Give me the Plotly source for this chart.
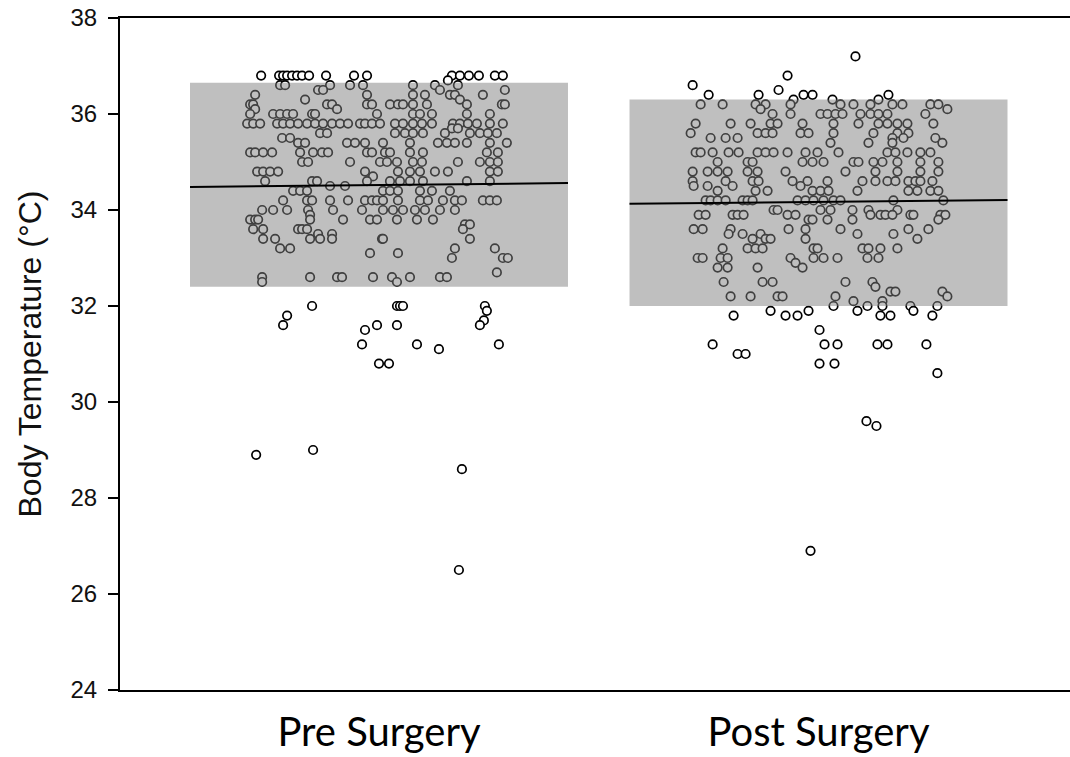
import plotly.graph_objects as go

# ---------------- data ----------------
groups = ["Pre Surgery", "Post Surgery"]

# rows of (temperature in degC, horizontal jitter values in 1/440 of the group spacing)
pre_rows = [
    (36.8, [-118, -100, -96, -92, -87, -82, -77, -70, -53, -25, -12, 73, 81, 90, 100, 116, 124]),
    (36.7, [69]),
    (36.6, [-99, -94, -49, -29, -16, 34, 56, 79]),
    (36.5, [-61, -56, 61, 126]),
    (36.4, [-124, -12, 34, 46, 71, 76, 104]),
    (36.3, [-74, 81]),
    (36.2, [-129, -126, -52, -47, -12, -7, 11, 19, 24, 34, 48, 88, 123, 126]),
    (36.1, [-124, -42]),
    (36.0, [-129, -106, -99, -92, -86, -67, -64, -2, 34, 41, 53, 88, 111]),
    (35.8, [-132, -126, -119, -102, -96, -89, -81, -72, -64, -56, -47, -39, -31, -19,
            -14, -7, 1, 16, 24, 34, 43, 53, 74, 81, 89, 98, 111, 124]),
    (35.7, [73, 79]),
    (35.6, [-59, -52, 16, 26, 34, 44, 66, 91, 101, 109, 118]),
    (35.5, [-97, -89]),
    (35.4, [-81, -74, -32, -24, -14, 4, 31, 59, 68, 76, 88, 111, 128]),
    (35.2, [-129, -124, -116, -107, -79, -66, -57, -51, -12, -7, 6, 11, 31, 44, 108, 119]),
    (35.0, [-77, -71, -29, 1, 8, 18, 34, 43, 79, 101, 111, 119]),
    (34.8, [-122, -116, -109, -101, -14, 19, 31, 41, 56, 69, 111, 119]),
    (34.7, [-6]),
    (34.6, [-114, -67, -62, -12, 11, 21, 31, 44, 88, 111]),
    (34.5, [-49, -34]),
    (34.4, [-86, -79, -72, 4, 11, 19, 41, 53, 71]),
    (34.2, [-96, -72, -67, -49, -31, -14, -7, -2, 4, 19, 41, 49, 64, 76, 83, 104, 111, 118]),
    (34.0, [-117, -106, -92, -71, -46, -17, 4, 14, 24, 36, 46, 61, 76]),
    (33.9, [-69]),
    (33.8, [-129, -124, -121, -69, -36, -9, -2, 18, 38, 54]),
    (33.7, [86, 91]),
    (33.6, [-126, -116, -81, -77, -72, 84]),
    (33.5, [-61, -47]),
    (33.4, [-116, -104, -69, -59, -47, 3, 4, 91]),
    (33.2, [-99, -89, 76, 116]),
    (33.1, [-9, 19]),
    (33.0, [73, 124, 129]),
    (32.7, [118]),
    (32.6, [-117, -69, -42, -37, -6, 13, 31, 61, 68]),
    (32.5, [-117, 18]),
    (32.0, [-67, 18, 21, 24, 106]),
    (31.9, [108]),
    (31.8, [-92]),
    (31.7, [105]),
    (31.6, [-96, -2, 18, 101]),
    (31.5, [-14]),
    (31.2, [-17, 38, 120]),
    (31.1, [60]),
    (30.8, [0, 10]),
    (29.0, [-66]),
    (28.9, [-123]),
    (28.6, [83]),
    (26.5, [80]),
]

post_rows = [
    (37.2, [37]),
    (36.8, [-31]),
    (36.6, [-126]),
    (36.5, [-40]),
    (36.4, [-110, -60, -15, -6, 70]),
    (36.3, [-25, 14, 60]),
    (36.2, [-118, -96, -63, -53, -28, 22, 35, 52, 74, 84, 112, 120]),
    (36.1, [-58, 129]),
    (36.0, [-46, -28, 2, 9, 17, 24, 42, 52, 60, 69, 107]),
    (35.8, [-123, -88, -68, -48, -41, -16, 15, 40, 60, 69, 79, 89, 115]),
    (35.6, [-128, -61, -53, -46, -18, -10, 15, 55, 79, 90]),
    (35.5, [-108, -93, -81, 74, 85, 117]),
    (35.4, [12, 50, 74, 124]),
    (35.2, [-123, -118, -106, -90, -80, -61, -53, -45, -31, -13, -1, 20, 69, 77, 89, 102, 112]),
    (35.0, [-101, -71, -66, -16, -6, 5, 35, 40, 55, 64, 79, 102, 120]),
    (34.8, [-126, -111, -101, -91, -71, -61, -33, 27, 57, 79, 102, 120]),
    (34.6, [-126, -93, -66, -60, -26, -11, 9, 44, 57, 69, 77, 90, 97, 102, 114]),
    (34.5, [-125, -111, -86, -18]),
    (34.4, [-101, -63, -51, -6, 2, 10, 39, 90, 99, 112, 120]),
    (34.2, [-113, -108, -101, -93, -76, -71, -66, -21, -13, -5, 5, 15, 22, 75, 125]),
    (34.0, [-45, -41, 2, 12, 34, 50, 79]),
    (33.9, [-120, -113, -86, -81, -75, -31, -23, 52, 62, 67, 74, 92, 95, 122, 127]),
    (33.8, [-10, -6, 9, 34, 120]),
    (33.6, [-125, -116, -88, -30, -13, 22, 90, 110]),
    (33.5, [-90, -76, -58, 39, 75]),
    (33.4, [-66, -53, -48, -13, 99]),
    (33.2, [-96, -71, -63, -56, -5, -1, 44, 50, 62, 79]),
    (33.0, [-121, -116, -98, -91, -28, -5, 5, 19, 49, 60]),
    (32.9, [-23]),
    (32.8, [-101, -91, -61, -16]),
    (32.5, [-95, -56, -46, 27, 54]),
    (32.4, [57]),
    (32.3, [72, 77, 124]),
    (32.2, [-88, -68, -41, -36, 17, 129]),
    (32.1, [35, 64]),
    (32.0, [15, 49, 64, 92, 119]),
    (31.9, [-48, -10, 39, 95]),
    (31.8, [-85, -33, -21, 62, 72, 114]),
    (31.5, [1]),
    (31.2, [-106, 6, 19, 59, 69, 108]),
    (31.0, [-81, -73]),
    (30.8, [1, 16]),
    (30.6, [119]),
    (29.6, [48]),
    (29.5, [58]),
    (26.9, [-8]),
]

# shaded band (low, high) and the trend line (left end, right end) per group
band_low = [32.4, 32.0]
band_high = [36.65, 36.3]
line_left = [34.48, 34.13]
line_right = [34.56, 34.21]

y_ticks = [24, 26, 28, 30, 32, 34, 36, 38]

# ---------------- figure ----------------
JITTER_UNITS = 440.0
BAND_HALF = 0.43

fig = go.Figure()
for gi, rows in enumerate([pre_rows, post_rows]):
    xs, ys = [], []
    for temp, jit in rows:
        for j in jit:
            xs.append(gi + j / JITTER_UNITS)
            ys.append(temp)
    fig.add_trace(go.Scatter(
        x=xs, y=ys, mode="markers", showlegend=False, hoverinfo="y",
        marker=dict(symbol="circle", size=8.5, color="white",
                    line=dict(color="black", width=1.7)),
    ))

shapes = []
for gi in range(len(groups)):
    shapes.append(dict(type="rect", xref="x", yref="y", layer="above",
                       x0=gi - BAND_HALF, x1=gi + BAND_HALF,
                       y0=band_low[gi], y1=band_high[gi],
                       fillcolor="rgba(128,128,128,0.5)", line=dict(width=0)))
for gi in range(len(groups)):
    shapes.append(dict(type="line", xref="x", yref="y", layer="above",
                       x0=gi - BAND_HALF, x1=gi + BAND_HALF,
                       y0=line_left[gi], y1=line_right[gi],
                       line=dict(color="black", width=2)))

fig.update_layout(
    width=1070, height=757,
    margin=dict(l=120, r=0, t=18, b=67),
    paper_bgcolor="white", plot_bgcolor="white",
    shapes=shapes,
    xaxis=dict(range=[-0.5893, 1.5722], tickmode="array", tickvals=[0, 1],
               ticktext=groups, showgrid=False, zeroline=False,
               showline=True, linecolor="black", linewidth=2, mirror=True,
               ticks="", ticklabelstandoff=6, automargin=False,
               tickfont=dict(family="Lato", size=40, color="black")),
    yaxis=dict(range=[24, 38], tickmode="array", tickvals=y_ticks,
               showgrid=False, zeroline=False, automargin=False,
               showline=True, linecolor="black", linewidth=2,
               ticks="outside", ticklen=10, tickwidth=2, tickcolor="black",
               ticklabelstandoff=6,
               tickfont=dict(family="Liberation Sans", size=24, color="#111"),
               title=dict(text="Body Temperature (°C)", standoff=19,
                          font=dict(family="Liberation Sans", size=32, color="#111"))),
)

fig.write_html("out.html")
